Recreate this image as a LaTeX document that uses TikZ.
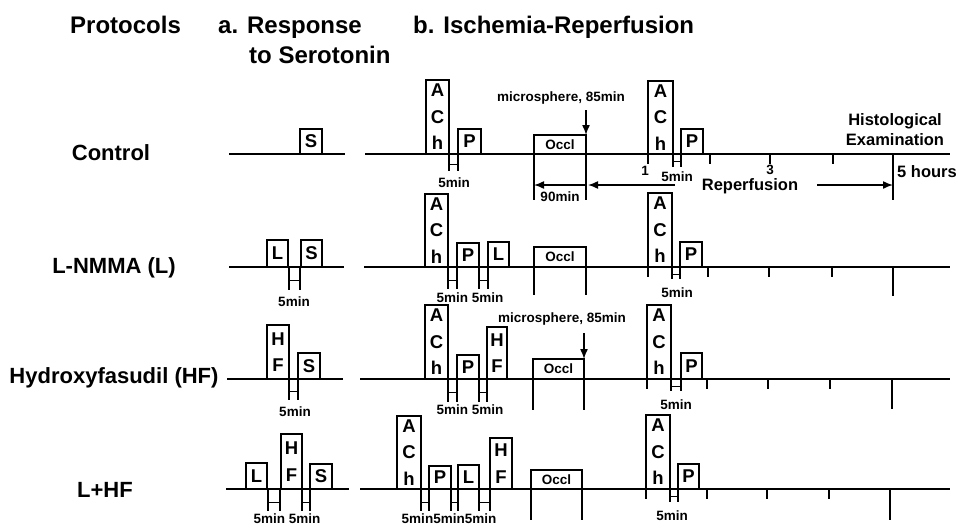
\documentclass[tikz,border=0pt]{standalone}
\usepackage{fontspec}
\setmainfont{Liberation Sans}
\usetikzlibrary{arrows.meta}

\tikzset{
  timeline/.style={line width=2.2pt},
  drugline/.style={line width=1.5pt},
  barline/.style={line width=1.3pt},
  tickline/.style={line width=1.5pt},
  arr/.style={line width=1.5pt,-{Latex[length=10pt,width=8pt]}},
  druglbl/.style={font=\fontsize{18.5}{26.5}\selectfont\bfseries,align=center,inner sep=0pt},
  minlbl/.style={font=\fontsize{13.5}{16}\selectfont\bfseries,inner sep=0pt},
  headlbl/.style={font=\fontsize{24}{28}\selectfont\bfseries,anchor=base west,inner sep=0pt},
  rowlbl/.style={font=\fontsize{22}{26}\selectfont\bfseries,anchor=base,inner sep=0pt},
  notelbl/.style={font=\fontsize{16.5}{20}\selectfont\bfseries,inner sep=0pt,align=center},
}

% box standing on a time line: name, left, right, top, baseline, text
\newcommand{\dbox}[6]{%
  \draw[drugline] (#2,#5) |- (#3,#4) -- (#3,#5);
  \node[druglbl] (#1) at ({(#2+#3)/2},{(#4+#5)/2}) {#6};}
% 5 min gap under the line: left, right, baseline, depth
\newcommand{\minbar}[4]{%
  \draw[barline] (#1,#3) -- (#1,#3+#4) (#2,#3) -- (#2,#3+#4)
    (#1,#3+0.6*#4) -- (#2,#3+0.6*#4);}
\newcommand{\occl}{\fontsize{13.5}{16}\selectfont Occl}

\begin{document}
\begin{tikzpicture}[x=1pt,y=-1pt]
\path[fill=white] (0,0) rectangle (958,528);
\useasboundingbox (0,0) rectangle (958,528);

% headings
\node[headlbl] (tProt) at (70,33) {Protocols};
\node[headlbl] (tRes) at (218,33) {a. Response};
\node[headlbl] (tSer) at (249,63) {to Serotonin};
\node[headlbl] (tIR) at (413,33) {b. Ischemia-Reperfusion};

\node[rowlbl] (rCtrl) at (111,160) {Control};
\node[rowlbl] (rL) at (114,273) {L-NMMA (L)};
\node[rowlbl] (rHF) at (114,383) {Hydroxyfasudil (HF)};
\node[rowlbl] (rLHF) at (105,497) {L+HF};

% Control
\draw[timeline] (229,154) -- (345,154);
\dbox{cS}{300}{322}{129}{154}{S}
\draw[timeline] (365,154) -- (950,154);
\dbox{cA}{426}{449}{80}{154}{A\\C\\h}
\minbar{449}{458}{154}{17}
\node[minlbl] (cM) at (454,183) {5min};
\dbox{cP}{458}{481}{129}{154}{P}
\dbox{cO}{534}{586}{135}{154}{\occl}
\draw[tickline] (534,154) -- (534,200) (586,154) -- (586,200);
\node[minlbl] (cMs) at (561,98) {microsphere, 85min};
\coordinate (cMs1) at (586,110);
\coordinate (cMs2) at (586,135);
\draw[arr] (cMs1) -- (cMs2);
\coordinate (c90a) at (534,185);
\coordinate (c90b) at (586,185);
\draw[arr,{Latex[length=10pt,width=8pt]}-] (c90a) -- (c90b);
\node[minlbl] (c90) at (560,197) {90min};
\dbox{cA2}{648}{673}{81}{154}{A\\C\\h}
\minbar{673}{681}{154}{13}
\node[minlbl] (cM2) at (677,177) {5min};
\dbox{cP2}{681}{703}{129}{154}{P}
\foreach \x in {648,710,770,833} \draw[tickline] (\x,154) -- (\x,164);
\draw[tickline] (893,154) -- (893,200);
\node[minlbl] (h1) at (645,171) {1};
\node[minlbl] (h3) at (770,170) {3};
\node[notelbl] (rep) at (750,186) {Reperfusion};
\coordinate (repL1) at (675,185);
\coordinate (repL2) at (588,185);
\coordinate (repR1) at (817,185);
\coordinate (repR2) at (893,185);
\draw[arr] (repL1) -- (repL2);
\draw[arr] (repR1) -- (repR2);
\node[notelbl,anchor=west] (h5) at (897,172) {5 hours};
\node[notelbl] (hist) at (895,130) {Histological\\Examination};

% L-NMMA
\draw[timeline] (229,267) -- (344,267);
\dbox{lL}{267}{288}{240}{267}{L}
\dbox{lS}{301}{322}{240}{267}{S}
\minbar{289}{300}{267}{23}
\node[minlbl] (lM) at (294,302) {5min};
\draw[timeline] (364,267) -- (950,267);
\dbox{lA}{425}{448}{194}{267}{A\\C\\h}
\minbar{448}{457}{267}{22}
\dbox{lP}{457}{479}{243}{267}{P}
\minbar{479}{488}{267}{22}
\dbox{lL2}{488}{509}{242}{267}{L}
\node[minlbl] (lM2) at (470,298) {5min 5min};
\dbox{lO}{534}{586}{247}{267}{\occl}
\draw[tickline] (534,267) -- (534,295) (586,267) -- (586,295);
\dbox{lA2}{648}{672}{193}{267}{A\\C\\h}
\minbar{672}{680}{267}{12}
\node[minlbl] (lM3) at (677,293) {5min};
\dbox{lP2}{680}{702}{242}{267}{P}
\foreach \x in {648,708,769,832} \draw[tickline] (\x,267) -- (\x,277);
\draw[tickline] (893,267) -- (893,296);

% Hydroxyfasudil
\draw[timeline] (227,379) -- (343,379);
\dbox{hHF}{267}{289}{325}{379}{H\\F}
\dbox{hS}{298}{320}{353}{379}{S}
\minbar{289}{298}{379}{21}
\node[minlbl] (hM) at (295,412) {5min};
\draw[timeline] (360,379) -- (950,379);
\dbox{hA}{425}{448}{305}{379}{A\\C\\h}
\minbar{448}{457}{379}{23}
\dbox{hP}{457}{479}{355}{379}{P}
\minbar{479}{487}{379}{23}
\dbox{hHF2}{487}{507}{327}{379}{H\\F}
\node[minlbl] (hM2) at (470,410) {5min 5min};
\node[minlbl] (hMs) at (562,319) {microsphere, 85min};
\coordinate (hMs1) at (584,333);
\coordinate (hMs2) at (584,359);
\draw[arr] (hMs1) -- (hMs2);
\dbox{hO}{533}{584}{359}{379}{\occl}
\draw[tickline] (533,379) -- (533,410) (584,379) -- (584,410);
\dbox{hA2}{647}{671}{305}{379}{A\\C\\h}
\minbar{671}{681}{379}{12}
\node[minlbl] (hM3) at (676,405) {5min};
\dbox{hP2}{681}{702}{353}{379}{P}
\foreach \x in {647,707,768,830} \draw[tickline] (\x,379) -- (\x,389);
\draw[tickline] (892,379) -- (892,409);

% L+HF
\draw[timeline] (226,489) -- (349,489);
\dbox{bL}{246}{267}{463}{489}{L}
\dbox{bHF}{281}{302}{434}{489}{H\\F}
\dbox{bS}{310}{332}{464}{489}{S}
\minbar{268}{280}{489}{22}
\minbar{302}{310}{489}{22}
\node[minlbl] (bM) at (287,519) {5min 5min};
\draw[timeline] (360,489) -- (950,489);
\dbox{bA}{397}{421}{416}{489}{A\\C\\h}
\minbar{421}{429}{489}{22}
\dbox{bP}{429}{451}{466}{489}{P}
\minbar{451}{458}{489}{22}
\dbox{bL2}{458}{479}{465}{489}{L}
\minbar{479}{490}{489}{22}
\dbox{bHF2}{490}{512}{438}{489}{H\\F}
\node[minlbl] (bM2) at (449,519) {5min5min5min};
\dbox{bO}{531}{582}{470}{489}{\occl}
\draw[tickline] (531,489) -- (531,520) (582,489) -- (582,520);
\dbox{bA2}{646}{670}{415}{489}{A\\C\\h}
\minbar{670}{678}{489}{13}
\node[minlbl] (bM3) at (672,516) {5min};
\dbox{bP2}{678}{699}{464}{489}{P}
\foreach \x in {646,707,767,829} \draw[tickline] (\x,489) -- (\x,499);
\draw[tickline] (890,489) -- (890,520);
\end{tikzpicture}
\end{document}
